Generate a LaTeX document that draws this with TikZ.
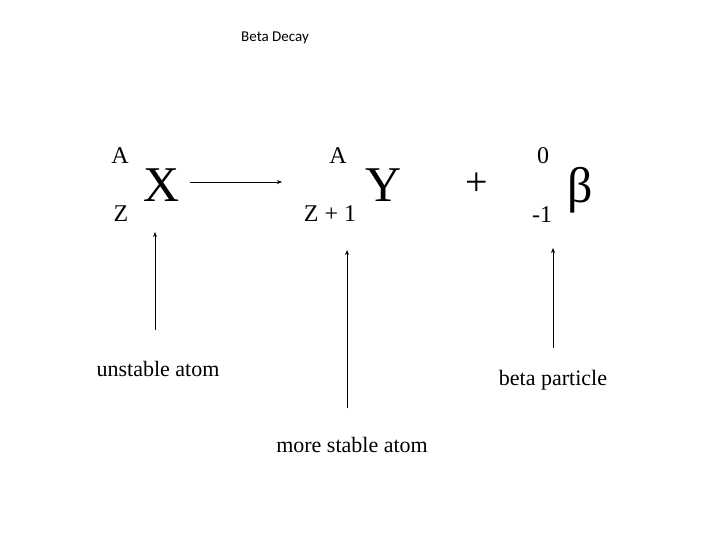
\documentclass[tikz,border=0pt]{standalone}
\usepackage{fontspec}
\setmainfont{Liberation Serif}
\newfontfamily\carlitofont{Carlito}
\usetikzlibrary{arrows.meta}
\begin{document}
\begin{tikzpicture}[x=1pt,y=-1pt,
  lbl/.style={inner sep=0pt,font=\fontsize{22}{24}\selectfont},
  sm/.style={inner sep=0pt,font=\fontsize{24}{26}\selectfont},
  big/.style={inner sep=0pt,font=\fontsize{50}{52}\selectfont},
  arr/.style={-{Stealth[length=5pt,width=4pt]},line width=0.9pt}]
\useasboundingbox (0,0) rectangle (720,540);
\node[inner sep=0pt,font=\carlitofont\fontsize{15}{17}\selectfont] (t) at (275,38) {Beta Decay};
\node[sm] (a1) at (120,156) {A};
\node[sm] (z1) at (121,214) {Z};
\node[big] (x) at (162,185) {X};
\node[sm] (a2) at (338,156) {A};
\node[sm] (z2) at (330,214) {Z + 1};
\node[big] (y) at (384,185) {Y};
\node[big,font=\fontsize{40}{42}\selectfont] (p) at (477,184) {+};
\node[sm] (a3) at (543,156) {0};
\node[sm] (z3) at (542,215) {-1};
\node[big] (b) at (580,190) {β};
\node[lbl] (u) at (158,369) {unstable atom};
\node[lbl] (m) at (352,445) {more stable atom};
\node[lbl] (bp) at (553,380) {beta particle};
\coordinate (s0) at (190,182); \coordinate (s1) at (282,182);
\draw[arr] (s0) -- (s1);
\coordinate (u0) at (155,330); \coordinate (u1) at (155,232);
\coordinate (m0) at (347,408); \coordinate (m1) at (347,250);
\coordinate (b0) at (553,348); \coordinate (b1) at (553,248);
\draw[arr] (u0) -- (u1);
\draw[arr] (m0) -- (m1);
\draw[arr] (b0) -- (b1);
\end{tikzpicture}
\end{document}
